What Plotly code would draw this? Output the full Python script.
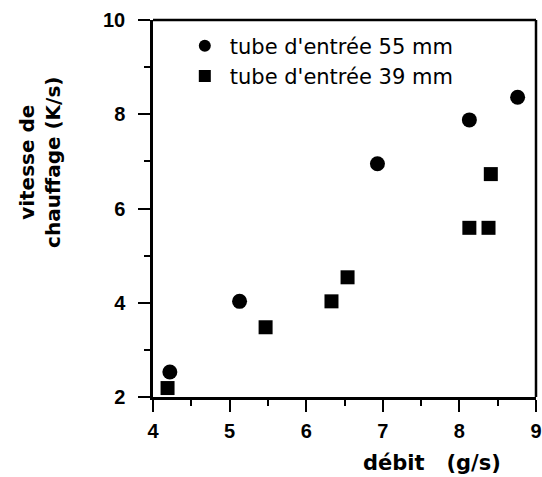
import plotly.graph_objects as go

x55 = [4.22, 5.13, 6.93, 8.13, 8.76]
y55 = [2.53, 4.03, 6.95, 7.88, 8.36]
x39 = [4.19, 5.47, 6.33, 6.54, 8.13, 8.38, 8.41]
y39 = [2.19, 3.48, 4.03, 4.54, 5.59, 5.59, 6.73]
name55 = "tube d'entrée 55 mm"
name39 = "tube d'entrée 39 mm"
ytick_vals = [2, 4, 6, 8, 10]
xtick_vals = [4, 5, 6, 7, 8, 9]

fig = go.Figure()
fig.add_trace(go.Scatter(x=x55, y=y55, mode="markers", name=name55,
                         marker=dict(symbol="circle", size=15, color="black")))
fig.add_trace(go.Scatter(x=x39, y=y39, mode="markers", name=name39,
                         marker=dict(symbol="square", size=14, color="black")))

AR = "Liberation Sans, Arial, Helvetica, sans-serif"
DJ = "DejaVu Sans, sans-serif"
fig.update_layout(
    width=542, height=477,
    margin=dict(l=153, r=6, t=20, b=80, autoexpand=False),
    paper_bgcolor="white", plot_bgcolor="white",
    showlegend=True,
    legend=dict(x=0.07, y=0.985, xanchor="left", yanchor="top",
                font=dict(family=DJ, size=21, color="black"),
                bgcolor="rgba(0,0,0,0)", itemsizing="constant", itemwidth=40,
                tracegroupgap=0),
    font=dict(family=AR, color="black"),
)
frame = dict(color="black", width=2.5)
fig.add_shape(type="line", xref="x domain", yref="y domain", x0=0, x1=1, y0=1, y1=1,
              line=frame, layer="above")
fig.add_shape(type="line", xref="x domain", yref="y domain", x0=1, x1=1, y0=0, y1=1,
              line=frame, layer="above")
fig.update_xaxes(range=[4, 9], tickvals=xtick_vals, ticks="outside", ticklen=12, tickwidth=2,
                 tickcolor="black", showline=True, linecolor="black", linewidth=2.5,
                 showgrid=False, zeroline=False, automargin=False, ticklabelstandoff=2,
                 tickfont=dict(family=AR, size=20, color="black", weight="bold"),
                 minor=dict(dtick=0.5, tick0=4, ticks="outside", ticklen=6, tickwidth=2, tickcolor="black"))
fig.update_yaxes(range=[2, 10], tickvals=ytick_vals, ticks="outside", ticklen=12, tickwidth=2,
                 tickcolor="black", showline=True, linecolor="black", linewidth=2.5,
                 showgrid=False, zeroline=False, automargin=False, ticklabelstandoff=9,
                 tickfont=dict(family=AR, size=20, color="black", weight="bold"),
                 minor=dict(dtick=1, tick0=2, ticks="outside", ticklen=6, tickwidth=2, tickcolor="black"))
fig.add_annotation(text="débit   (g/s)", xref="paper", yref="paper", x=0.728, y=-0.175,
                   xanchor="center", yanchor="middle", showarrow=False,
                   font=dict(family=DJ, size=21, color="black", weight="bold"))
fig.add_annotation(text="vitesse de<br>chauffage (K/s)", xref="paper", yref="paper",
                   x=-0.295, y=0.621, xanchor="center", yanchor="middle", showarrow=False,
                   textangle=-90,
                   font=dict(family=DJ, size=20, color="black", weight="bold"))
fig.write_html("out.html", config={"displayModeBar": False},
               post_script="document.body.style.margin='0';document.body.style.overflow='hidden';")
